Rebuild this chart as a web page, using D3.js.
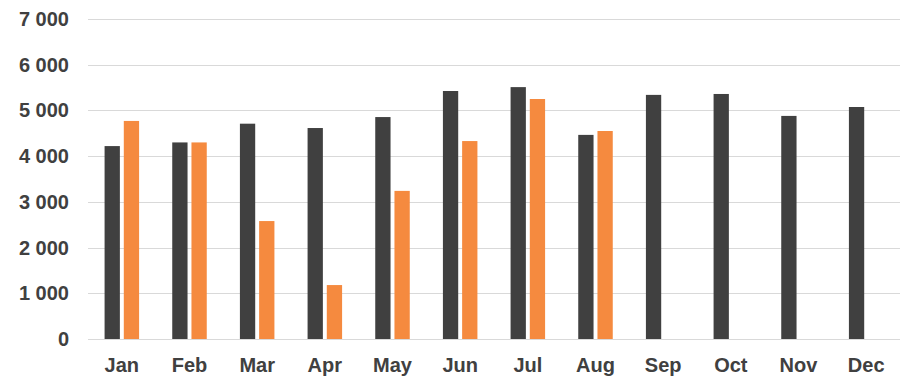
<!DOCTYPE html>
<html><head><meta charset="utf-8">
<script src="https://cdn.jsdelivr.net/npm/d3@7"></script>
<style>body{margin:0;background:#fff}svg{display:block}</style>
</head><body><svg id="c" width="924" height="391"></svg>
<script>
const months = ["Jan","Feb","Mar","Apr","May","Jun","Jul","Aug","Sep","Oct","Nov","Dec"];
const series1 = [4220,4300,4710,4615,4855,5425,5510,4465,5340,5360,4880,5075];
const series2 = [4770,4300,2580,1180,3240,4330,5250,4550,null,null,null,null];
const yTicks = [0,1000,2000,3000,4000,5000,6000,7000];
const colors = ["#404040","#F58A3F"];

(function(){
const svg = d3.select("#c");
const pl = 88, pr = 900, pt = 19, pb = 339;
const x = d3.scaleBand().domain(months).range([pl, pr]);
const y = d3.scaleLinear().domain([0,7000]).range([pb, pt]);
const fmt = v => d3.format(",")(v).replace(/,/g, " ");

svg.append("g").selectAll("line").data(yTicks).join("line")
  .attr("x1", pl).attr("x2", pr)
  .attr("y1", d => Math.round(y(d)) + 0.5).attr("y2", d => Math.round(y(d)) + 0.5)
  .attr("stroke", "#d9d9d9").attr("stroke-width", 1);

svg.append("g").selectAll("text").data(yTicks).join("text")
  .attr("x", 69).attr("y", d => y(d)).attr("dy", "0.35em")
  .attr("text-anchor", "end")
  .attr("font-family", "Liberation Sans, Arial, sans-serif")
  .attr("font-weight", "bold").attr("font-size", 20).attr("fill", "#404040")
  .text(fmt);

const bw = x.bandwidth() * 0.226, gap = x.bandwidth() * 0.058;
const g = svg.append("g");
g.selectAll("rect.s1").data(months).join("rect").attr("class","s1")
  .attr("x", (d) => x(d) + x.bandwidth()/2 - gap/2 - bw)
  .attr("width", bw)
  .attr("y", (d,i) => y(series1[i])).attr("height", (d,i) => y(0) - y(series1[i]))
  .attr("fill", colors[0]);
g.selectAll("rect.s2").data(months.filter((d,i) => series2[i] != null)).join("rect").attr("class","s2")
  .attr("x", (d) => x(d) + x.bandwidth()/2 + gap/2)
  .attr("width", bw)
  .attr("y", (d) => y(series2[months.indexOf(d)])).attr("height", (d) => y(0) - y(series2[months.indexOf(d)]))
  .attr("fill", colors[1]);

svg.append("g").selectAll("text").data(months).join("text")
  .attr("x", d => x(d) + x.bandwidth()/2).attr("y", 372)
  .attr("text-anchor", "middle")
  .attr("font-family", "Liberation Sans, Arial, sans-serif")
  .attr("font-weight", "bold").attr("font-size", 20).attr("fill", "#404040")
  .text(d => d);
})();
</script></body></html>
